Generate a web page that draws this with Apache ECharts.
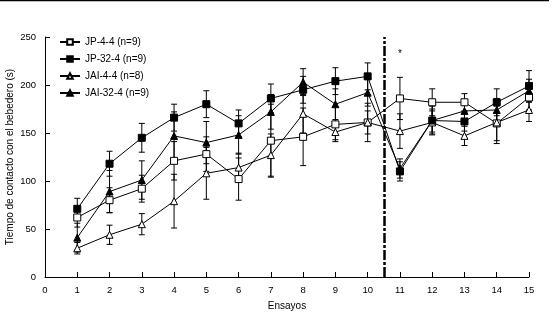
<!DOCTYPE html>
<html>
<head>
<meta charset="utf-8">
<script src="https://cdn.jsdelivr.net/npm/echarts@6/dist/echarts.min.js"></script>
<style>
  html, body { margin: 0; padding: 0; background: #fff; }
  #chart { width: 554px; height: 313px; }
</style>
</head>
<body>
<div id="chart"></div>
<script>
// ensayos 1..15
const trials = [1, 2, 3, 4, 5, 6, 7, 8, 9, 10, 11, 12, 13, 14, 15]
const yTicks = [0, 50, 100, 150, 200, 250]

const jp44 = [62, 80, 92, 121, 128, 102, 142, 146, 159, 161, 186, 182, 182, 160, 187]
const jp44Err = [10, 13, 14, 20, 18, 22, 38, 30, 18, 20, 22, 14, 9, 18, 13]
const jp324 = [71, 118, 145, 166, 180, 160, 186, 195, 204, 209, 110, 163, 162, 182, 199]
const jp324Err = [11, 13, 15, 14, 14, 14, 15, 14, 14, 14, 10, 12, 10, 14, 16]
const jai44 = [30, 44, 55, 79, 108, 114, 127, 170, 151, 161, 152, 161, 147, 161, 174]
const jai44Err = [6, 10, 11, 28, 27, 15, 22, 20, 8, 12, 18, 12, 10, 22, 12]
const jai324 = [41, 89, 101, 147, 140, 148, 172, 203, 180, 192, 113, 163, 173, 174, 194]
const jai324Err = [15, 22, 20, 25, 22, 20, 18, 14, 16, 14, 10, 15, 12, 12, 12]

const font = 'Liberation Sans'

function pairs (vals) {
  return trials.map((t, i) => [t, vals[i]])
}

function errSeries (vals, errs) {
  return {
    type: 'custom',
    silent: true,
    z: 1,
    data: trials.map((t, i) => [t, vals[i] - errs[i], vals[i] + errs[i]]),
    renderItem (params, api) {
      const lo = api.coord([api.value(0), api.value(1)])
      const hi = api.coord([api.value(0), api.value(2)])
      const w = 3
      const st = { stroke: '#000', lineWidth: 1 }
      return {
        type: 'group',
        children: [
          { type: 'line', shape: { x1: lo[0], y1: lo[1], x2: hi[0], y2: hi[1] }, style: st },
          { type: 'line', shape: { x1: lo[0] - w, y1: lo[1], x2: lo[0] + w, y2: lo[1] }, style: st },
          { type: 'line', shape: { x1: hi[0] - w, y1: hi[1], x2: hi[0] + w, y2: hi[1] }, style: st }
        ]
      }
    }
  }
}

function lineSeries (name, vals, symbol, filled, size) {
  return {
    name: name,
    type: 'line',
    z: 3,
    data: pairs(vals),
    symbol: symbol,
    symbolSize: size,
    showAllSymbol: true,
    lineStyle: { color: '#000', width: 1 },
    itemStyle: {
      color: filled ? '#000' : '#fff',
      borderColor: '#000',
      borderWidth: 1
    }
  }
}

const chart = echarts.init(document.getElementById('chart'))

const s1 = lineSeries('JP-4-4 (n=9)', jp44, 'rect', false, 7)
const s2 = lineSeries('JP-32-4 (n=9)', jp324, 'rect', true, 7)
const s3 = lineSeries('JAI-4-4 (n=8)', jai44, 'triangle', false, 7)
const s4 = lineSeries('JAI-32-4 (n=9)', jai324, 'triangle', true, 7)

// separador entre ensayos 10 y 11
s2.markLine = {
  silent: true,
  symbol: 'none',
  label: { show: false },
  lineStyle: { color: '#000', width: 2.5, type: [10, 2, 3, 2] },
  data: [[{ coord: [10.5, 0] }, { coord: [10.5, 250] }]]
}
s1.markPoint = {
  silent: true,
  symbol: 'circle',
  symbolSize: 0,
  label: { show: true, formatter: '*', color: '#000', fontSize: 10, fontFamily: font },
  data: [{ coord: [11, 232] }]
}

chart.setOption({
  animation: false,
  backgroundColor: '#fff',
  textStyle: { fontFamily: font },
  grid: { left: 45, right: 25, top: 37, bottom: 36, outerBoundsMode: 'none', containLabel: false },
  legend: {
    orient: 'vertical',
    left: 59,
    top: 37,
    padding: 0,
    itemWidth: 20,
    itemHeight: 7,
    itemGap: 7,
    textStyle: { color: '#000', fontSize: 10, fontFamily: font },
    data: [s1.name, s2.name, s3.name, s4.name]
  },
  graphic: [{
    type: 'line',
    shape: { x1: 0, y1: 0.5, x2: 549, y2: 0.5 },
    style: { stroke: '#000', lineWidth: 1.5 }
  }],
  xAxis: {
    type: 'value',
    min: 0,
    max: 15,
    interval: 1,
    name: 'Ensayos',
    nameLocation: 'middle',
    nameGap: 24,
    nameMoveOverlap: false,
    nameTextStyle: { color: '#000', fontSize: 10, fontFamily: font },
    axisLine: { lineStyle: { color: '#000', width: 1 } },
    axisTick: { inside: true, length: 5, lineStyle: { color: '#000' } },
    axisLabel: { color: '#000', fontSize: 9.5, margin: 8, fontFamily: font },
    splitLine: { show: false }
  },
  yAxis: {
    type: 'value',
    min: yTicks[0],
    max: yTicks[yTicks.length - 1],
    interval: 50,
    name: 'Tiempo de contacto con el bebedero (s)',
    nameLocation: 'middle',
    nameGap: 30,
    nameMoveOverlap: false,
    nameTextStyle: { color: '#000', fontSize: 10, fontFamily: font },
    axisLine: { show: true, lineStyle: { color: '#000', width: 1 } },
    axisTick: { show: true, inside: true, length: 5, lineStyle: { color: '#000' } },
    axisLabel: { color: '#000', fontSize: 9.5, margin: 9, fontFamily: font },
    splitLine: { show: false }
  },
  series: [
    errSeries(jp44, jp44Err),
    errSeries(jp324, jp324Err),
    errSeries(jai44, jai44Err),
    errSeries(jai324, jai324Err),
    s1, s2, s3, s4
  ]
})
</script>
</body>
</html>
